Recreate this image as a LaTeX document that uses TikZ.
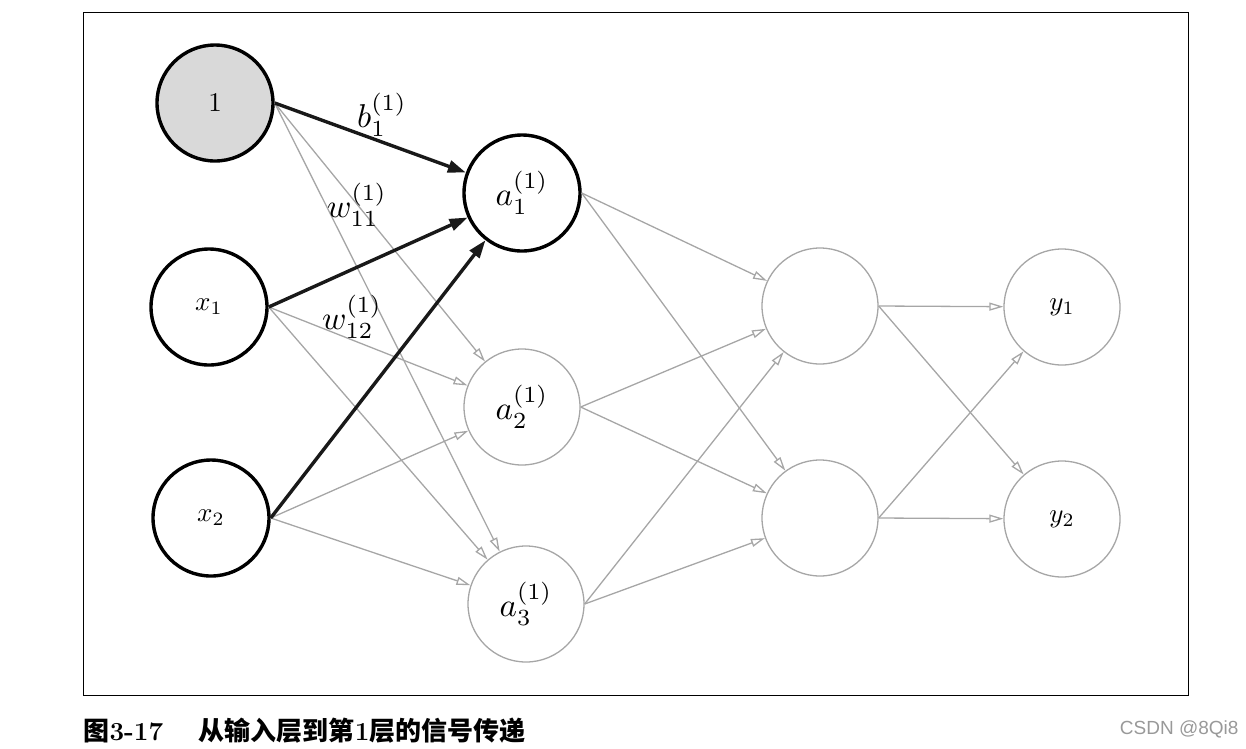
\documentclass[tikz,border=0pt]{standalone}
\usepackage{fontspec}
\newfontfamily\cjk{Noto Sans CJK SC}
\newfontfamily\wmfont{Liberation Sans}
\usetikzlibrary{arrows.meta}
\newcommand\bigmath[1]{\scalebox{3.3}{#1}}
\newcommand\smallmath[1]{\scalebox{2.7}{#1}}
\tikzset{
  neuron/.style={circle,draw=black!35,line width=1.3pt,minimum size=116pt,inner sep=0pt},
  boldneuron/.style={neuron,draw=black,line width=3.4pt},
  thin/.style={draw=black!35,line width=1.3pt,-{Triangle[open,length=14pt,width=8pt]}},
  thick/.style={draw=black!90,line width=3.4pt,-{Triangle[length=18pt,width=12pt]}},
  wlabel/.style={inner sep=0pt}
}
\begin{document}
\begin{tikzpicture}[x=1pt,y=-1pt]
\useasboundingbox (0,0) rectangle (1246,748);
% frame
\draw[line width=1pt] (83,12) rectangle (1188,695);

% input layer
\node[boldneuron,fill=black!15] (b) at (215,103) {\smallmath{$1$}};
\node[boldneuron] (x1) at (209,307) {\smallmath{$x_1$}};
\node[boldneuron] (x2) at (211,518) {\smallmath{$x_2$}};
% first layer
\node[boldneuron] (a1) at (522,193) {\bigmath{$a^{(1)}_1$}};
\node[neuron] (a2) at (522,407) {\bigmath{$a^{(1)}_2$}};
\node[neuron] (a3) at (526,604) {\bigmath{$a^{(1)}_3$}};
% second layer
\node[neuron] (h1) at (820,306) {};
\node[neuron] (h2) at (820,518) {};
% output layer
\node[neuron] (y1) at (1062,307) {\smallmath{$y_1$}};
\node[neuron] (y2) at (1062,519) {\smallmath{$y_2$}};

% connections
\foreach \s in {b,x1,x2}
  \foreach \t in {a2,a3}
    \draw[thin] (\s.east) -- (\t);
\foreach \s in {a1,a2,a3}
  \foreach \t in {h1,h2}
    \draw[thin] (\s.east) -- (\t);
\foreach \s in {h1,h2}
  \foreach \t in {y1,y2}
    \draw[thin] (\s.east) -- (\t);
\foreach \s in {b,x1,x2}
  \draw[thick] (\s.east) -- (a1);

% weights
\node[wlabel] (lb) at (382,115) {\bigmath{$b^{(1)}_1$}};
\node[wlabel] (lw11) at (357,205) {\bigmath{$w^{(1)}_{11}$}};
\node[wlabel] (lw12) at (352,317) {\bigmath{$w^{(1)}_{12}$}};

% caption
\node[anchor=west,font=\fontsize{26}{30}\selectfont\bfseries] (cap) at (80,731)
  {{\cjk\bfseries 图}3-17\quad\ {\cjk 从输入层到第}1{\cjk 层的信号传递}};
\node[anchor=east,text=black!40,font=\wmfont\fontsize{19}{22}\selectfont] (wm) at (1242,729) {CSDN @8Qi8};
\end{tikzpicture}
\end{document}
